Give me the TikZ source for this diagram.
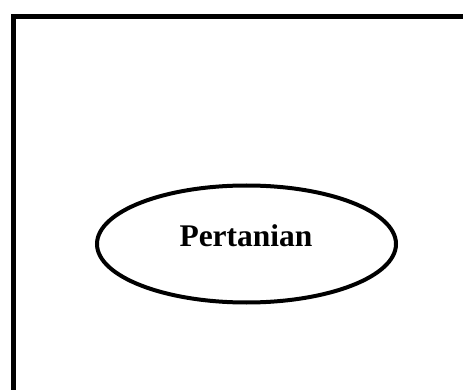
\documentclass[tikz,border=0pt]{standalone}
\usepackage{fontspec}
\setmainfont{Liberation Serif}
\usetikzlibrary{shapes.geometric}
\tikzset{
  frame/.style={line width=5pt, line join=miter},
  oval/.style={draw, ellipse, line width=4pt, minimum width=299pt, minimum height=117pt, inner sep=0pt},
  label/.style={font=\fontsize{31.5}{36}\selectfont\bfseries, inner sep=0pt, anchor=base}
}
\begin{document}
\begin{tikzpicture}[x=1pt,y=-1pt]
\useasboundingbox (0,0) rectangle (463,390);
\clip (0,0) rectangle (463,390);
\fill[white] (0,0) rectangle (463,390);
\draw[frame] (13.5,420) -- (13.5,16.5) -- (520,16.5);
\node[oval] (o) at (246.5,244) {};
\node[label] (t) at (246,247) {Pertanian};
\end{tikzpicture}
\end{document}
